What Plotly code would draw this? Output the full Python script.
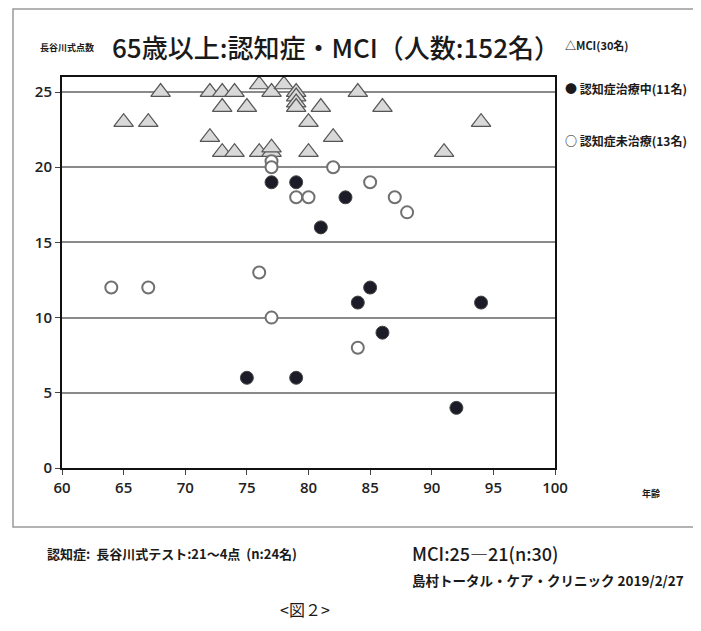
import plotly.graph_objects as go

# ---- data ----
mci_age = [65, 67, 68, 72, 72, 73, 73, 73, 74, 74, 75, 76, 76, 77, 77, 77, 78, 79, 79, 79, 79, 80, 80, 81, 82, 84, 86, 91, 94]
mci_score = [23, 23, 25, 25, 22, 25, 24, 21, 25, 21, 24, 25.5, 21, 25, 21, 21.3, 25.5, 25, 24.7, 24.3, 24, 23, 21, 24, 22, 25, 24, 21, 23]

treated_age = [77, 79, 83, 81, 84, 85, 86, 75, 79, 92, 94]
treated_score = [19, 19, 18, 16, 11, 12, 9, 6, 6, 4, 11]

untreated_age = [64, 67, 76, 77, 77, 77, 79, 80, 82, 85, 87, 88, 84]
untreated_score = [12, 12, 13, 10, 20.4, 20, 18, 18, 20, 19, 18, 17, 8]

x_ticks = [60, 65, 70, 75, 80, 85, 90, 95, 100]
y_ticks = [0, 5, 10, 15, 20, 25]

OFF = 8  # page body margin of the browser
W, H = 701 - OFF, 631 - 2 * OFF
PW, PH = 493, 391
L, T = 62 - OFF, 77 - OFF
R, B = W - L - PW, H - T - PH


def px(x):
    return (x - OFF - L) / PW


def py(y):
    return (T + PH - (y - OFF)) / PH


JP = "Noto Sans CJK JP"
fig = go.Figure()

fig.add_trace(go.Scatter(
    x=mci_age, y=mci_score, mode="markers", name="MCI",
    marker=dict(symbol="triangle-up", size=17, color="#d9d9d9",
                line=dict(color="#555555", width=1.2))))
fig.add_trace(go.Scatter(
    x=untreated_age, y=untreated_score, mode="markers", name="未治療",
    marker=dict(symbol="circle", size=12, color="white",
                line=dict(color="#707070", width=2))))
fig.add_trace(go.Scatter(
    x=treated_age, y=treated_score, mode="markers", name="治療中",
    marker=dict(symbol="circle", size=13, color="#1c1c28",
                line=dict(color="#444444", width=1))))

axis_font = dict(family="Open Sans", size=15, color="#222222", weight=600)
fig.update_xaxes(range=[60, 100], tickvals=x_ticks, ticks="outside", ticklen=5,
                 tickcolor="#444", showgrid=False, zeroline=False,
                 showline=True, linecolor="#111", linewidth=2, mirror=True,
                 tickfont=axis_font)
fig.update_yaxes(range=[0, 26], tickvals=y_ticks, ticks="outside", ticklen=5,
                 tickcolor="#444", showgrid=True, gridcolor="#8a8a8a", gridwidth=1.5,
                 zeroline=False, showline=True, linecolor="#111", linewidth=2,
                 mirror=True, tickfont=axis_font)

ann = []


def text(x, y, s, size, xanchor="left", weight=400, family=JP, color="#1a1a1a"):
    ann.append(dict(x=px(x), y=py(y), xref="paper", yref="paper", text=s,
                    showarrow=False, xanchor=xanchor, yanchor="middle",
                    font=dict(family=family, size=size, color=color, weight=weight)))


text(38, 47, "長谷川式点数", 9, weight=700)
text(110, 46, "65歳以上:認知症・MCI（人数:152名）", 26, weight=500)
text(563, 45, "△MCI(30名)", 11, weight=700)
text(563, 88, "● 認知症治療中(11名)", 12, weight=700)
text(563, 140, "○ 認知症未治療(13名)", 12, weight=700)
text(640, 493, "年齢", 9, weight=700)
text(45, 553, "認知症:  長谷川式テスト:21～4点  (n:24名)", 13, weight=700)
text(410, 553, "MCI:25―21(n:30)", 18, weight=500)
text(410, 580, "島村トータル・ケア・クリニック 2019/2/27", 13.5, weight=700)
text(305, 609, "<図２>", 16, xanchor="center")

fig.update_layout(
    width=W, height=H, margin=dict(l=L, r=R, t=T, b=B),
    paper_bgcolor="white", plot_bgcolor="white", showlegend=False,
    annotations=ann,
    shapes=[dict(type="rect", xref="paper", yref="paper",
                 x0=px(13), x1=px(720), y0=py(527), y1=py(9),
                 line=dict(color="#9a9a9a", width=1.5))])

fig.write_html("out.html")
